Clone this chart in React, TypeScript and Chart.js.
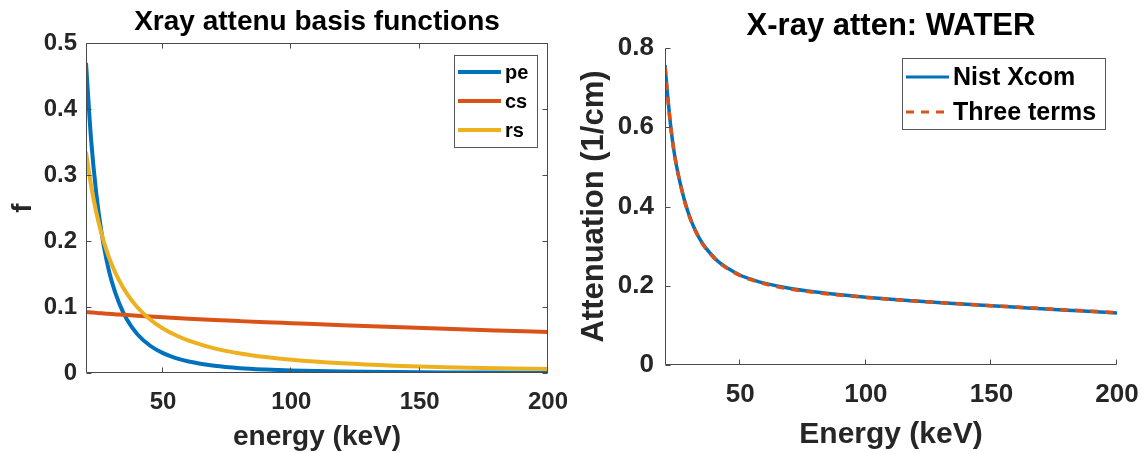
import React, { useEffect, useRef } from 'react';
import { Chart, registerables } from 'chart.js';

Chart.register(...registerables);

// ---------- data ----------
const leftEnergy = [20, 22, 24, 26, 28, 30, 33, 36, 40, 45, 50, 55, 60, 70, 80, 90, 100, 120, 140, 160, 180, 200];
const peValues = [0.470, 0.353, 0.272, 0.214, 0.171, 0.139, 0.105, 0.0806, 0.0588, 0.0413, 0.0301, 0.0226, 0.0174, 0.0110, 0.0073, 0.0052, 0.0038, 0.0022, 0.0014, 0.0009, 0.0006, 0.0005];
const csValues = [0.0925, 0.0918, 0.0911, 0.0905, 0.0899, 0.0893, 0.0885, 0.0877, 0.0867, 0.0855, 0.0843, 0.0832, 0.0822, 0.0803, 0.0786, 0.0770, 0.0755, 0.0725, 0.0696, 0.0669, 0.0644, 0.0620];
const rsValues = [0.335, 0.2835, 0.2435, 0.2117, 0.1859, 0.1648, 0.1395, 0.1198, 0.0996, 0.0811, 0.0674, 0.0571, 0.0490, 0.0374, 0.0296, 0.0241, 0.0200, 0.0146, 0.0111, 0.0088, 0.0072, 0.0060];
const leftSeriesNames = ['pe', 'cs', 'rs'];
const leftXTicks = [50, 100, 150, 200];

const rightEnergy = [20, 21, 22, 23, 24, 25, 26, 28, 30, 32, 35, 38, 41, 45, 50, 55, 60, 70, 80, 90, 100, 110, 120, 130, 140, 150, 160, 170, 180, 190, 200];
const nistValues = [0.757, 0.683, 0.618, 0.565, 0.523, 0.489, 0.460, 0.410, 0.371, 0.341, 0.306, 0.282, 0.262, 0.244, 0.2265, 0.215, 0.206, 0.193, 0.184, 0.177, 0.171, 0.1659, 0.1615, 0.1573, 0.1534, 0.1495, 0.1458, 0.1420, 0.1384, 0.1348, 0.1312];
const threeTermValues = [0.752, 0.680, 0.617, 0.565, 0.523, 0.489, 0.460, 0.409, 0.370, 0.340, 0.305, 0.281, 0.261, 0.243, 0.2255, 0.2135, 0.2045, 0.1915, 0.1828, 0.1762, 0.1705, 0.1656, 0.1613, 0.1573, 0.1535, 0.1498, 0.1462, 0.1426, 0.1391, 0.1357, 0.1322];
const rightSeriesNames = ['Nist Xcom', 'Three terms'];
const rightXTicks = [50, 100, 150, 200];

// ---------- style ----------
const FONT = '"Liberation Sans", Arial, Helvetica, sans-serif';
const TEXT = '#262626';
const AXIS = '#4a4a4a';
const BLUE = '#0072BD';
const ORANGE = '#D95319';
const YELLOW = '#EDB120';

function pts(xs: number[], ys: number[]) {
  return xs.map((x, i) => ({ x, y: ys[i] }));
}

interface Layout {
  left: number; top: number; padRight: number; xAxisH: number;
  box: boolean; tickLen: number;
  tickSize: number; xTickPad: number; yTickPad: number;
  title: string; titleSize: number; titleY: number;
  xLabel: string; xLabelSize: number; xLabelY: number;
  yLabel: string; yLabelSize: number; yLabelX: number;
  leg: { l: number; t: number; r: number; b: number; x0: number; x1: number; tx: number; rows: number[]; size: number; lw: number };
  yMax: number; yStep: number; xTicks: number[];
}

function decorPlugin(L: Layout) {
  return {
    id: 'decor',
    afterDraw(chart: any) {
      const { ctx, chartArea: a, scales } = chart;
      const xs = scales.x, ys = scales.y;
      ctx.save();
      ctx.strokeStyle = AXIS;
      ctx.lineWidth = 1;
      const Lx = Math.round(a.left) + 0.5;
      const Rx = Math.round(a.right) - 0.5;
      const Ty = Math.round(a.top) + 0.5;
      const By = Math.round(a.bottom) - 0.5;
      ctx.beginPath();
      ctx.moveTo(Lx, Ty); ctx.lineTo(Lx, By); ctx.lineTo(Rx, By);
      if (L.box) { ctx.lineTo(Rx, Ty); ctx.lineTo(Lx, Ty); }
      ctx.stroke();
      // inward ticks
      ctx.beginPath();
      xs.ticks.forEach((t: any) => {
        const p = Math.round(xs.getPixelForValue(t.value)) - 0.5;
        ctx.moveTo(p, By); ctx.lineTo(p, By - L.tickLen);
        if (L.box) { ctx.moveTo(p, Ty); ctx.lineTo(p, Ty + L.tickLen); }
      });
      ys.ticks.forEach((t: any) => {
        const p = Math.round(ys.getPixelForValue(t.value)) + 0.5;
        ctx.moveTo(Lx, p); ctx.lineTo(Lx + L.tickLen, p);
        if (L.box) { ctx.moveTo(Rx, p); ctx.lineTo(Rx - L.tickLen, p); }
      });
      ctx.stroke();

      // title
      ctx.fillStyle = '#000';
      ctx.textAlign = 'center';
      ctx.textBaseline = 'alphabetic';
      const cx = (a.left + a.right) / 2;
      ctx.font = `bold ${L.titleSize}px ${FONT}`;
      ctx.fillText(L.title, cx, L.titleY);
      // axis labels
      ctx.fillStyle = TEXT;
      ctx.font = `bold ${L.xLabelSize}px ${FONT}`;
      ctx.fillText(L.xLabel, cx, L.xLabelY);
      ctx.save();
      ctx.translate(L.yLabelX, (a.top + a.bottom) / 2);
      ctx.rotate(-Math.PI / 2);
      ctx.font = `bold ${L.yLabelSize}px ${FONT}`;
      ctx.fillText(L.yLabel, 0, 0);
      ctx.restore();

      // legend
      const g = L.leg;
      ctx.fillStyle = '#fff';
      ctx.fillRect(g.l, g.t, g.r - g.l, g.b - g.t);
      ctx.strokeStyle = '#555';
      ctx.lineWidth = 1;
      ctx.strokeRect(g.l + 0.5, g.t + 0.5, g.r - g.l, g.b - g.t);
      chart.data.datasets.forEach((ds: any, i: number) => {
        const yy = g.rows[i];
        ctx.beginPath();
        ctx.strokeStyle = ds.borderColor;
        ctx.lineWidth = g.lw;
        ctx.setLineDash(ds.borderDash || []);
        ctx.moveTo(g.x0, yy); ctx.lineTo(g.x1, yy);
        ctx.stroke();
        ctx.setLineDash([]);
        ctx.fillStyle = '#000';
        ctx.textAlign = 'left';
        ctx.textBaseline = 'middle';
        ctx.font = `bold ${g.size}px ${FONT}`;
        ctx.fillText(ds.label, g.tx, yy + 1);
      });
      ctx.restore();
    },
  };
}

function makeConfig(L: Layout, datasets: any[]): any {
  const tickFont = { family: FONT, size: L.tickSize, weight: 'bold' as const };
  return {
    type: 'line',
    data: { datasets },
    options: {
      responsive: false,
      animation: false,
      events: [],
      layout: { padding: { top: L.top, right: L.padRight, left: 0, bottom: 0 } },
      plugins: { legend: { display: false }, title: { display: false }, tooltip: { enabled: false } },
      elements: { point: { radius: 0 } },
      scales: {
        x: {
          type: 'linear', min: 20, max: 200,
          afterBuildTicks: (s: any) => { s.ticks = L.xTicks.map((v) => ({ value: v })); },
          afterFit: (s: any) => { s.height = L.xAxisH; s.paddingLeft = 0; s.paddingRight = 0; },
          grid: { display: false, drawTicks: false },
          border: { display: false },
          ticks: { font: tickFont, color: TEXT, padding: L.xTickPad, maxRotation: 0, autoSkip: false },
        },
        y: {
          type: 'linear', min: 0, max: L.yMax,
          afterFit: (s: any) => { s.width = L.left; s.paddingTop = 0; s.paddingBottom = 0; },
          grid: { display: false, drawTicks: false },
          border: { display: false },
          ticks: { font: tickFont, color: TEXT, padding: L.yTickPad, stepSize: L.yStep },
        },
      },
    },
    plugins: [decorPlugin(L)],
  };
}

const leftLayout: Layout = {
  left: 86, top: 43, padRight: 26, xAxisH: 80, box: true, tickLen: 5,
  tickSize: 24, xTickPad: 15, yTickPad: 9,
  title: 'Xray attenu basis functions', titleSize: 28, titleY: 30,
  xLabel: 'energy (keV)', xLabelSize: 28, xLabelY: 445,
  yLabel: 'f', yLabelSize: 28, yLabelX: 31,
  leg: { l: 454, t: 55, r: 537, b: 147, x0: 458, x1: 501, tx: 505, rows: [72, 101, 130], size: 20, lw: 4 },
  yMax: 0.5, yStep: 0.1, xTicks: leftXTicks,
};

const rightLayout: Layout = {
  left: 91, top: 48, padRight: 31, xAxisH: 88, box: false, tickLen: 5,
  tickSize: 26, xTickPad: 14, yTickPad: 11,
  title: 'X-ray atten: WATER', titleSize: 31, titleY: 35,
  xLabel: 'Energy (keV)', xLabelSize: 30, xLabelY: 443,
  yLabel: 'Attenuation (1/cm)', yLabelSize: 31, yLabelX: 29,
  leg: { l: 328, t: 58, r: 531, b: 129, x0: 332, x1: 375, tx: 379, rows: [77, 112], size: 25, lw: 3 },
  yMax: 0.8, yStep: 0.2, xTicks: rightXTicks,
};

function ChartCanvas({ config, left }: { config: () => any; left: number }) {
  const ref = useRef<HTMLCanvasElement | null>(null);
  useEffect(() => {
    if (!ref.current) return;
    const chart = new Chart(ref.current, config());
    return () => chart.destroy();
  }, []);
  return (
    <canvas
      ref={ref}
      width={574}
      height={453}
      style={{ position: 'absolute', left, top: 0, width: 574, height: 453 }}
    />
  );
}

export default function App() {
  const leftConfig = () =>
    makeConfig(leftLayout, [
      { label: leftSeriesNames[0], data: pts(leftEnergy, peValues), borderColor: BLUE, borderWidth: 4, cubicInterpolationMode: 'monotone', order: 3 },
      { label: leftSeriesNames[1], data: pts(leftEnergy, csValues), borderColor: ORANGE, borderWidth: 4, cubicInterpolationMode: 'monotone', order: 2 },
      { label: leftSeriesNames[2], data: pts(leftEnergy, rsValues), borderColor: YELLOW, borderWidth: 4, cubicInterpolationMode: 'monotone', order: 1 },
    ]);
  const rightConfig = () =>
    makeConfig(rightLayout, [
      { label: rightSeriesNames[0], data: pts(rightEnergy, nistValues), borderColor: BLUE, borderWidth: 3.5, cubicInterpolationMode: 'monotone', order: 2 },
      { label: rightSeriesNames[1], data: pts(rightEnergy, threeTermValues), borderColor: ORANGE, borderWidth: 3.5, borderDash: [8, 7], cubicInterpolationMode: 'monotone', order: 1 },
    ]);
  return (
    <div style={{ position: 'absolute', left: 0, top: 0, width: 1148, height: 453, background: '#fff' }}>
      <ChartCanvas config={leftConfig} left={0} />
      <ChartCanvas config={rightConfig} left={574} />
    </div>
  );
}
